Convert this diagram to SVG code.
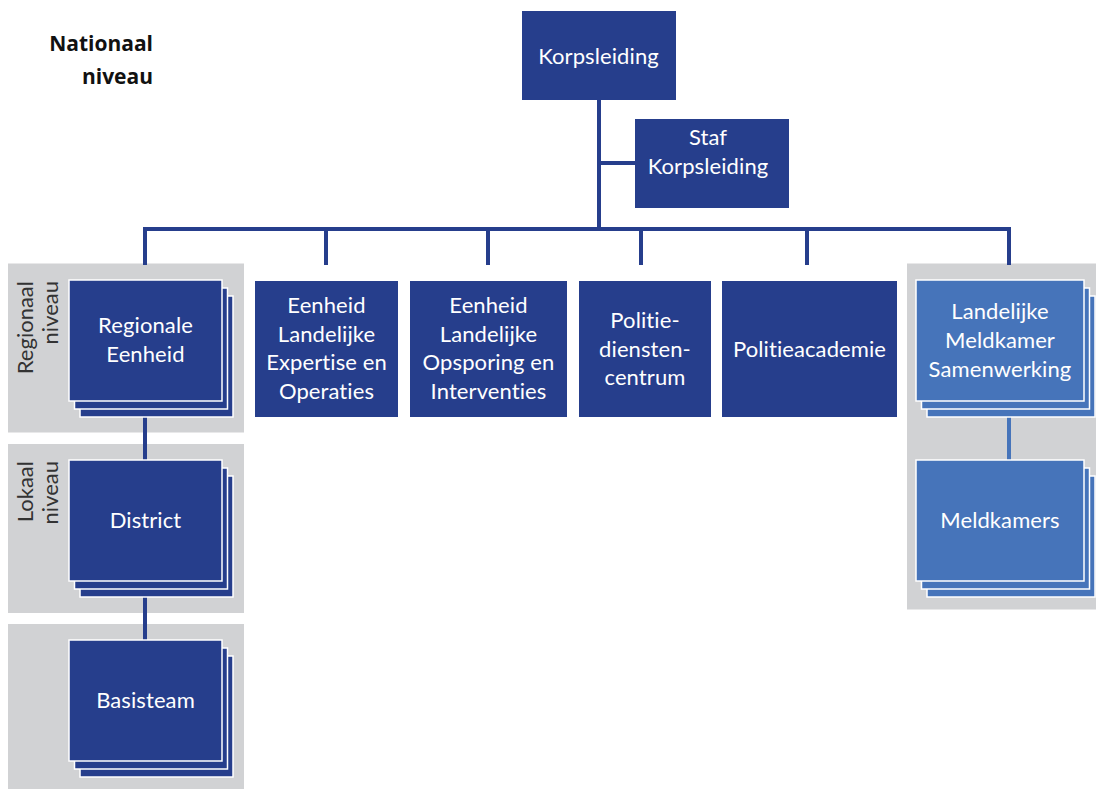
<svg xmlns="http://www.w3.org/2000/svg" width="1096" height="789" viewBox="0 0 1096 789">
<style>
.panel{fill:#d1d2d4}
.dk{fill:#263e8c}
.lt{fill:#4674ba}
.st rect{stroke:#ffffff;stroke-width:1.5}
.t{font-family:Lato,"Liberation Sans",sans-serif;font-size:22px;fill:#ffffff;text-anchor:middle;font-variant-ligatures:none;letter-spacing:0.1px}
.lbl{font-family:Lato,"Liberation Sans",sans-serif;font-size:22px;fill:#333333;font-variant-ligatures:none}
.nat{font-family:"Open Sans","Liberation Sans",sans-serif;font-size:21px;font-weight:bold;fill:#111111;text-anchor:end}
.ln{stroke:#263e8c;stroke-width:4;fill:none}
.lnl{stroke:#4674ba;stroke-width:4;fill:none}
</style>
<rect width="1096" height="789" fill="#ffffff"/>
<g id="panels">
<rect class="panel" x="8" y="263.5" width="236" height="169"/>
<rect class="panel" x="8" y="444" width="236" height="169"/>
<rect class="panel" x="8" y="624" width="236" height="165"/>
<rect class="panel" x="907" y="263.5" width="189" height="346"/>
</g>
<g id="level-labels">
<text class="nat" x="153" y="50.5">Nationaal</text>
<text class="nat" x="153" y="84">niveau</text>
<text class="lbl" transform="translate(33,281) rotate(-90)" text-anchor="end">Regionaal</text>
<text class="lbl" transform="translate(58,281) rotate(-90)" text-anchor="end">niveau</text>
<text class="lbl" transform="translate(33,461) rotate(-90)" text-anchor="end">Lokaal</text>
<text class="lbl" transform="translate(58,461) rotate(-90)" text-anchor="end">niveau</text>
</g>
<g id="connectors">
<path class="ln" d="M599 99 V229 M599 163 H636 M143 229 H1011 M145 227 V265 M326 229 V265 M488 229 V265 M641 229 V265 M807 229 V265 M1009 229 V265"/>
<path class="ln" d="M145 416 V461 M145 596 V641"/>
<path class="lnl" d="M1009 416 V461"/>
</g>
<g id="korpsleiding">
<rect class="dk" x="522" y="11" width="154" height="89"/>
<text class="t" x="598.5" y="64">Korpsleiding</text>
</g>
<g id="staf-korpsleiding">
<rect class="dk" x="635" y="119" width="154" height="89"/>
<text class="t" x="708" y="145">Staf</text>
<text class="t" x="708" y="174">Korpsleiding</text>
</g>
<g id="regionale-eenheid" class="st">
<rect class="dk" x="80" y="296" width="153" height="121"/>
<rect class="dk" x="74.5" y="288" width="153" height="121"/>
<rect class="dk" x="69" y="280" width="153" height="121"/>
<text class="t" x="145.5" y="333">Regionale</text>
<text class="t" x="145.5" y="362">Eenheid</text>
</g>
<g id="district" class="st">
<rect class="dk" x="80" y="476" width="153" height="121"/>
<rect class="dk" x="74.5" y="468" width="153" height="121"/>
<rect class="dk" x="69" y="460" width="153" height="121"/>
<text class="t" x="145.5" y="528">District</text>
</g>
<g id="basisteam" class="st">
<rect class="dk" x="80" y="656" width="153" height="121"/>
<rect class="dk" x="74.5" y="648" width="153" height="121"/>
<rect class="dk" x="69" y="640" width="153" height="121"/>
<text class="t" x="145.5" y="708">Basisteam</text>
</g>
<g id="eenheid-leo">
<rect class="dk" x="255" y="281" width="143" height="136"/>
<text class="t" x="326.5" y="313">Eenheid</text>
<text class="t" x="326.5" y="341.5">Landelijke</text>
<text class="t" x="326.5" y="370">Expertise en</text>
<text class="t" x="326.5" y="398.5">Operaties</text>
</g>
<g id="eenheid-loi">
<rect class="dk" x="410" y="281" width="157" height="136"/>
<text class="t" x="488.5" y="313">Eenheid</text>
<text class="t" x="488.5" y="341.5">Landelijke</text>
<text class="t" x="488.5" y="370">Opsporing en</text>
<text class="t" x="488.5" y="398.5">Interventies</text>
</g>
<g id="politiedienstencentrum">
<rect class="dk" x="579" y="281" width="132" height="136"/>
<text class="t" x="645" y="328">Politie-</text>
<text class="t" x="645" y="356.5">diensten-</text>
<text class="t" x="645" y="385">centrum</text>
</g>
<g id="politieacademie">
<rect class="dk" x="722" y="281" width="175" height="136"/>
<text class="t" x="809.5" y="357">Politieacademie</text>
</g>
<g id="lms" class="st">
<rect class="lt" x="927" y="296" width="168" height="121"/>
<rect class="lt" x="921.5" y="288" width="168" height="121"/>
<rect class="lt" x="916" y="280" width="168" height="121"/>
<text class="t" x="1000" y="319">Landelijke</text>
<text class="t" x="1000" y="348">Meldkamer</text>
<text class="t" x="1000" y="377">Samenwerking</text>
</g>
<g id="meldkamers" class="st">
<rect class="lt" x="927" y="476" width="168" height="121"/>
<rect class="lt" x="921.5" y="468" width="168" height="121"/>
<rect class="lt" x="916" y="460" width="168" height="121"/>
<text class="t" x="1000" y="528">Meldkamers</text>
</g>
</svg>
